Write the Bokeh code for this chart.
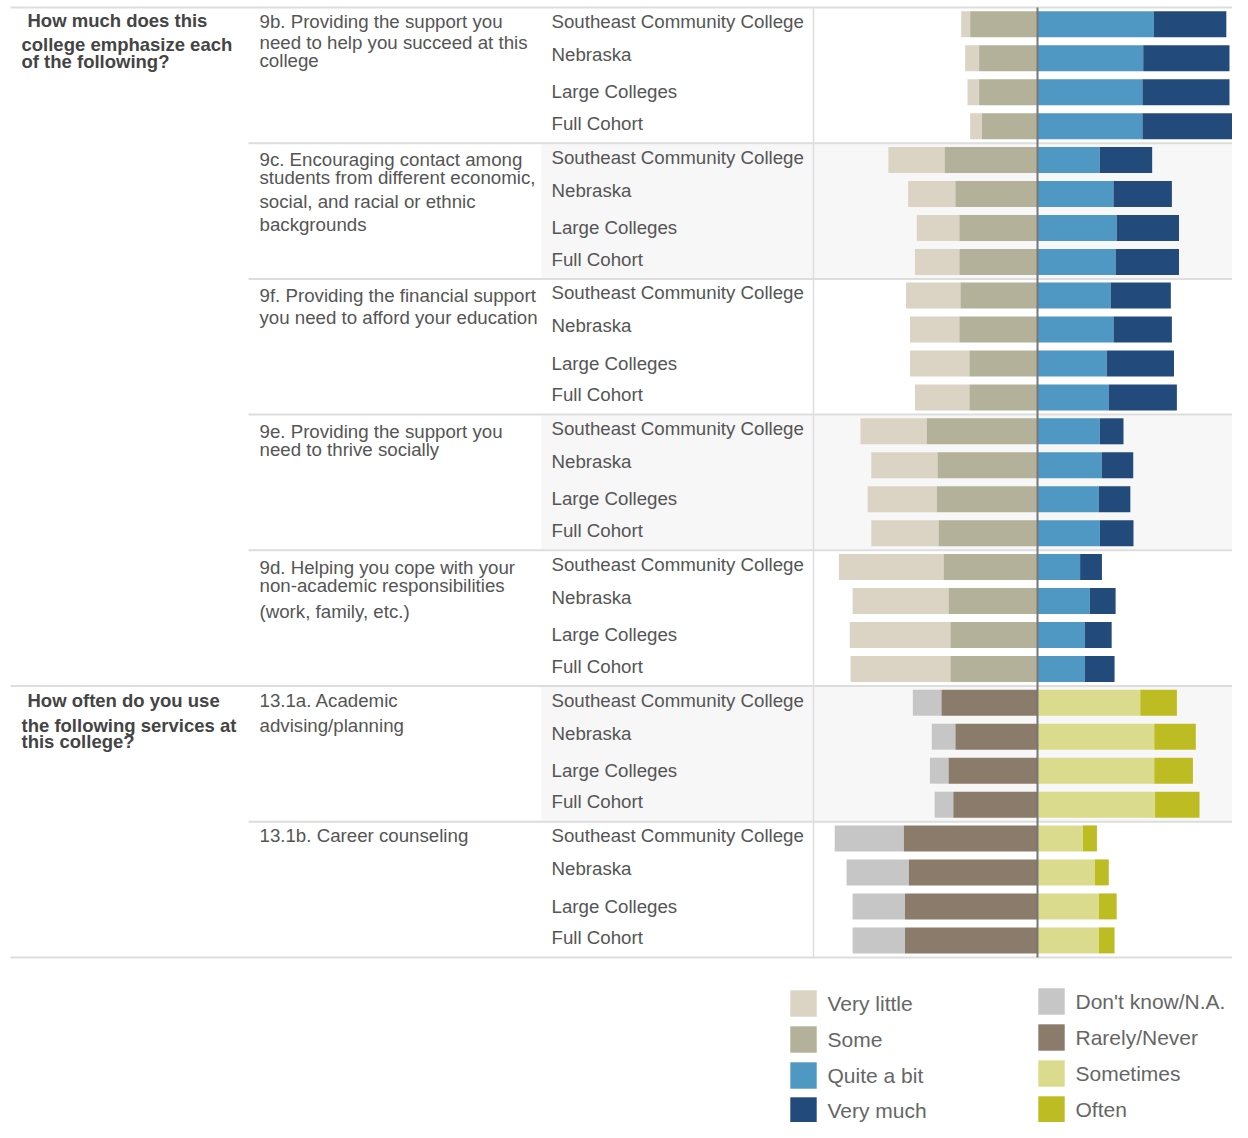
from bokeh.plotting import figure
from bokeh.models import Range1d, ColumnDataSource
from bokeh.core.properties import value
from bokeh.embed import file_html
from bokeh.resources import INLINE

# ---------------- data ----------------
groups = ["Southeast Community College", "Nebraska", "Large Colleges", "Full Cohort"]

item_lines = [
    ["9b. Providing the support you", "need to help you succeed at this", "college"],
    ["9c. Encouraging contact among", "students from different economic,",
     "social, and racial or ethnic", "backgrounds"],
    ["9f. Providing the financial support", "you need to afford your education"],
    ["9e. Providing the support you", "need to thrive socially"],
    ["9d. Helping you cope with your", "non-academic responsibilities", "(work, family, etc.)"],
    ["13.1a. Academic", "advising/planning"],
    ["13.1b. Career counseling"],
]

header1 = ["How much does this", "college emphasize each", "of the following?"]
header2 = ["How often do you use", "the following services at", "this college?"]

# Emphasis items (9b, 9c, 9f, 9e, 9d) - percent per group
very_little = [[3.4, 5.3, 4.4, 4.5], [21.4, 18.0, 16.2, 16.9], [20.7, 18.8, 22.6, 20.7],
               [25.2, 25.2, 26.3, 25.6], [39.8, 36.5, 38.3, 38.0]]
some = [[25.6, 22.2, 22.2, 21.1], [35.3, 31.2, 29.7, 29.7], [29.3, 29.7, 25.9, 25.9],
        [42.1, 38.0, 38.3, 37.6], [35.7, 33.8, 33.1, 33.1]]
quite_a_bit = [[44.3, 40.2, 39.9, 39.9], [23.7, 28.9, 30.1, 29.7], [27.8, 28.9, 26.3, 27.1],
               [23.7, 24.4, 23.3, 23.7], [16.2, 19.9, 18.0, 18.0]]
very_much = [[27.5, 32.8, 33.1, 34.1], [19.9, 22.2, 23.7, 24.1], [22.9, 22.2, 25.6, 25.9],
             [9.0, 12.0, 12.0, 12.8], [8.3, 9.8, 10.2, 11.3]]

# Service use items (13.1a, 13.1b)
dont_know = [[10.9, 9.0, 7.1, 7.1], [26.3, 23.7, 19.9, 19.9]]
rarely_never = [[36.5, 31.2, 33.8, 32.0], [50.8, 48.9, 50.4, 50.4]]
sometimes = [[39.1, 44.4, 44.4, 44.7], [17.3, 21.8, 23.3, 23.3]]
often = [[13.9, 15.8, 14.7, 16.9], [5.3, 5.3, 6.8, 6.0]]

legend_left = ["Very little", "Some", "Quite a bit", "Very much"]
legend_right = ["Don't know/N.A.", "Rarely/Never", "Sometimes", "Often"]

# ---------------- styles ----------------
C_VL, C_SOME, C_QAB, C_VM = "#dbd3c4", "#b3b19a", "#4f98c4", "#224b7c"
C_DK, C_RN, C_ST, C_OF = "#c6c6c6", "#8b7b6b", "#dbdb8d", "#bebc23"
FONT = value("Liberation Sans")
TXT = "#555555"
GRID = "#dddddd"

W, H = 1232, 1122
PX = 2.63          # pixels per percent
ZERO = 1037        # x position (px) of 0 %


def fx(px):
    return (px - ZERO) / PX


p = figure(width=W, height=H, output_backend="svg", toolbar_location=None,
           x_range=Range1d(fx(0), fx(W)), y_range=Range1d(H, 0),
           min_border=0)
p.axis.visible = False
p.grid.visible = False
p.outline_line_color = None
p.background_fill_color = "white"

TOP = 7.0
GH = 135.7
ROW = 34.0
line_y = [TOP + GH * g for g in range(8)]

# shaded bands
band_g = [1, 3, 5]
p.quad(left=[fx(541)] * 3, right=[fx(W + 5)] * 3,
       top=[line_y[g] + 1 for g in band_g], bottom=[line_y[g + 1] - 1 for g in band_g],
       fill_color="#f7f7f7", line_color=None)

# bars
rows = {k: [] for k in ["y", "left", "right", "color"]}


def add(y, l, r, c):
    rows["y"].append(y)
    rows["left"].append(l)
    rows["right"].append(r)
    rows["color"].append(c)


for g in range(7):
    for r in range(4):
        y = line_y[g] + 16.7 + ROW * r
        if g < 5:
            a, b, c, d = very_little[g][r], some[g][r], quite_a_bit[g][r], very_much[g][r]
            cols = (C_VL, C_SOME, C_QAB, C_VM)
        else:
            k = g - 5
            a, b, c, d = dont_know[k][r], rarely_never[k][r], sometimes[k][r], often[k][r]
            cols = (C_DK, C_RN, C_ST, C_OF)
        add(y, -(a + b), -b, cols[0])
        add(y, -b, 0, cols[1])
        add(y, 0, c, cols[2])
        add(y, c, c + d, cols[3])

p.hbar(y="y", left="left", right="right", height=26, fill_color="color",
       line_color=None, source=ColumnDataSource(rows))

# separators
xs0, xs1, ys = [], [], []
for g in range(8):
    start = 10 if g in (0, 5, 7) else 248
    xs0.append(fx(start))
    xs1.append(fx(W + 5))
    ys.append(line_y[g])
p.segment(x0=xs0, x1=xs1, y0=ys, y1=ys, line_color=GRID, line_width=2)
p.segment(x0=[fx(813)], x1=[fx(813)], y0=[line_y[0]], y1=[line_y[7]],
          line_color=GRID, line_width=1.5)
p.segment(x0=[0], x1=[0], y0=[line_y[0]], y1=[line_y[7]], line_color="#777777", line_width=2)

# texts
tx, ty, tt = [], [], []
item_y = [[20.5, 42, 59.5], [158.7, 176.7, 200.7, 223.7], [295, 317], [431, 449],
          [567, 585, 611], [700, 725], [835]]
for g, lines in enumerate(item_lines):
    for ln, yy in zip(lines, item_y[g]):
        tx.append(fx(259)); ty.append(yy); tt.append(ln)
label_off = [14, 47, 84.3, 115.8]
for g in range(7):
    for r, name in enumerate(groups):
        tx.append(fx(551)); ty.append(line_y[g] + label_off[r]); tt.append(name)
p.text(x=tx, y=ty, text=tt, text_font=FONT, text_font_size="18.7px",
       text_color=TXT, text_baseline="middle", text_align="left")

hx, hy, ht = [], [], []
for lines, yl in ((header1, [19.5, 44, 61]), (header2, [699.5, 725, 741])):
    for i, (ln, yy) in enumerate(zip(lines, yl)):
        hx.append(fx(27 if i == 0 else 21)); hy.append(yy); ht.append(ln)
p.text(x=hx, y=hy, text=ht, text_font=FONT, text_font_size="18.5px",
       text_font_style="bold", text_color="#444444", text_baseline="middle", text_align="left")

# legend
lcols = [C_VL, C_SOME, C_QAB, C_VM]
rcols = [C_DK, C_RN, C_ST, C_OF]
ly = [1003, 1039, 1075, 1110]
ry = [1001, 1037, 1073, 1109]
p.scatter(x=[fx(803)] * 4, y=ly, marker="square", size=27, fill_color=lcols,
          line_color="white", line_alpha=0.6)
p.scatter(x=[fx(1051)] * 4, y=ry, marker="square", size=27, fill_color=rcols,
          line_color="white", line_alpha=0.6)
p.text(x=[fx(827)] * 4 + [fx(1075)] * 4, y=ly + ry, text=legend_left + legend_right,
       text_font=FONT, text_font_size="21px", text_color="#666666",
       text_baseline="middle", text_align="left")

open("out.html", "w").write(file_html(p, INLINE))
